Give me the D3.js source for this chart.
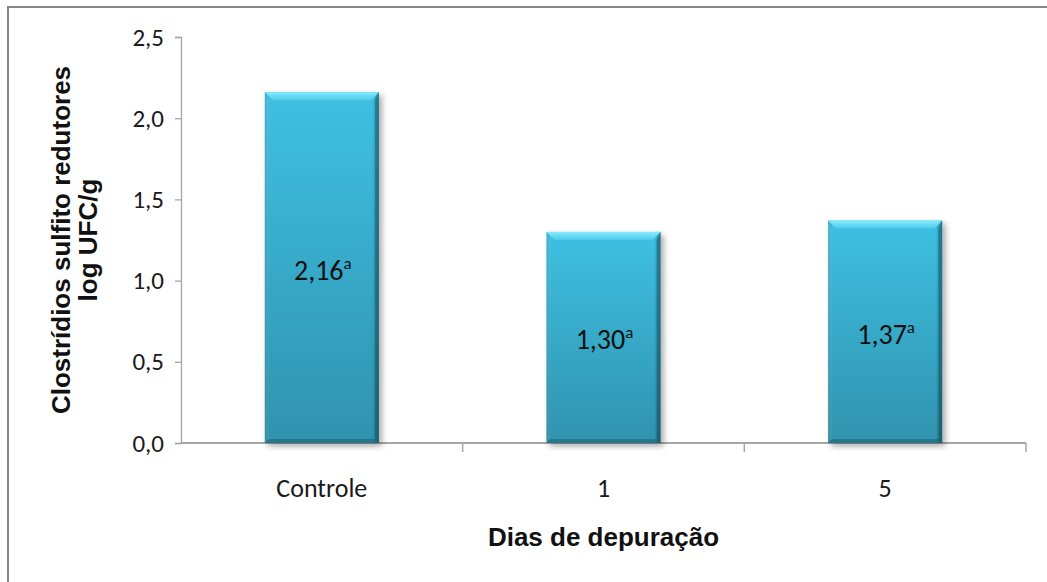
<!DOCTYPE html>
<html>
<head>
<meta charset="utf-8">
<script src="https://cdn.jsdelivr.net/npm/d3@7"></script>
<style>
  html, body { margin: 0; padding: 0; background: #fff; }
  svg { display: block; }
</style>
</head>
<body>
<svg id="chart" width="1047" height="582"></svg>
<script>
// Clostrídios sulfito redutores por dias de depuração
const categories = ["Controle", "1", "5"];
const values = [2.16, 1.30, 1.37];
const letters = ["a", "a", "a"];
const yTicks = [0, 0.5, 1.0, 1.5, 2.0, 2.5];

const svg = d3.select("#chart");
const W = 1047, H = 582;
const margin = { left: 181, right: 21, top: 37, bottom: 139 };
const bodyFont = "Carlito, Calibri, Lato, 'Liberation Sans', sans-serif";
const titleFont = "'Liberation Sans', Arial, sans-serif";

// outer frame
svg.append("rect")
  .attr("x", 8).attr("y", 7)
  .attr("width", W + 10).attr("height", H + 10)
  .attr("fill", "#fff").attr("stroke", "#868686").attr("stroke-width", 2);

const x = d3.scaleBand().domain(categories)
  .range([margin.left, W - margin.right]).padding(0);
const y = d3.scaleLinear().domain([0, 2.5])
  .range([H - margin.bottom, margin.top]);

const fmt = v => d3.format(".1f")(v).replace(".", ",");
const fmt2 = v => d3.format(".2f")(v).replace(".", ",");

const defs = svg.append("defs");
const gv = defs.append("linearGradient").attr("id", "barFill")
  .attr("x1", 0).attr("y1", 0).attr("x2", 0).attr("y2", 1);
gv.append("stop").attr("offset", "0%").attr("stop-color", "#3fc0e3");
gv.append("stop").attr("offset", "100%").attr("stop-color", "#2f93ae");

const gh = defs.append("linearGradient").attr("id", "barEdge")
  .attr("x1", 0).attr("y1", 0).attr("x2", 1).attr("y2", 0);
gh.append("stop").attr("offset", "0%").attr("stop-color", "#000").attr("stop-opacity", 0.12);
gh.append("stop").attr("offset", "4%").attr("stop-color", "#000").attr("stop-opacity", 0.0);
gh.append("stop").attr("offset", "94%").attr("stop-color", "#000").attr("stop-opacity", 0.0);
gh.append("stop").attr("offset", "100%").attr("stop-color", "#000").attr("stop-opacity", 0.25);

const gtop = defs.append("linearGradient").attr("id", "barTop")
  .attr("x1", 0).attr("y1", 0).attr("x2", 0).attr("y2", 1);
gtop.append("stop").attr("offset", "0%").attr("stop-color", "#86ecfd");
gtop.append("stop").attr("offset", "100%").attr("stop-color", "#4ccaec");

const shadow = defs.append("filter").attr("id", "shadow")
  .attr("x", "-20%").attr("y", "-10%").attr("width", "140%").attr("height", "130%");
shadow.append("feGaussianBlur").attr("in", "SourceAlpha").attr("stdDeviation", 3).attr("result", "b");
shadow.append("feOffset").attr("in", "b").attr("dx", 3).attr("dy", 3).attr("result", "o");
shadow.append("feComponentTransfer").attr("in", "o").attr("result", "s")
  .append("feFuncA").attr("type", "linear").attr("slope", 0.35);
const merge = shadow.append("feMerge");
merge.append("feMergeNode").attr("in", "s");
merge.append("feMergeNode").attr("in", "SourceGraphic");

// axes
const yAxis = svg.append("g")
  .attr("transform", `translate(${margin.left},0)`)
  .call(d3.axisLeft(y).tickValues(yTicks).tickFormat(fmt).tickSizeOuter(0).tickSize(6).tickPadding(11));
yAxis.select(".domain").attr("stroke", "#a6a6a6").attr("stroke-width", 1.3);
yAxis.selectAll(".tick line").attr("stroke", "#a6a6a6").attr("stroke-width", 1.3);
yAxis.selectAll(".tick text")
  .attr("font-family", bodyFont)
  .attr("font-size", 25).attr("fill", "#1a1a1a");

const xAxisG = svg.append("g").attr("transform", `translate(0,${y(0)})`);
xAxisG.append("line")
  .attr("x1", margin.left).attr("x2", W - margin.right)
  .attr("stroke", "#a6a6a6").attr("stroke-width", 2);
const boundaries = categories.map(c => x(c)).concat([x(categories[categories.length - 1]) + x.bandwidth()]);
xAxisG.selectAll("line.tk").data(boundaries.slice(1)).join("line")
  .attr("class", "tk")
  .attr("x1", d => d).attr("x2", d => d).attr("y1", 0).attr("y2", 9)
  .attr("stroke", "#a6a6a6").attr("stroke-width", 1.5);
xAxisG.selectAll("text").data(categories).join("text")
  .attr("x", d => x(d) + x.bandwidth() / 2).attr("y", 54)
  .attr("text-anchor", "middle")
  .attr("font-family", bodyFont)
  .attr("font-size", 26).attr("fill", "#1a1a1a")
  .text(d => d);

// bars
const bw = x.bandwidth() * 0.405;
const bars = svg.append("g").selectAll("g.bar")
  .data(categories.map((c, i) => ({ c, v: values[i], l: letters[i] })))
  .join("g").attr("class", "bar");

bars.each(function(d) {
  const g = d3.select(this);
  const bx = x(d.c) + (x.bandwidth() - bw) / 2;
  const by = y(d.v);
  const bh = y(0) - y(d.v);
  const bev = 8;
  g.append("rect").attr("x", bx).attr("y", by).attr("width", bw).attr("height", bh)
    .attr("fill", "url(#barFill)").attr("filter", "url(#shadow)");
  g.append("rect").attr("x", bx).attr("y", by).attr("width", bw).attr("height", bh)
    .attr("fill", "url(#barEdge)");
  // top bevel
  g.append("path")
    .attr("d", `M${bx},${by} L${bx + bw},${by} L${bx + bw - bev},${by + bev} L${bx + bev},${by + bev} Z`)
    .attr("fill", "url(#barTop)");
  // left bevel
  g.append("path")
    .attr("d", `M${bx},${by} L${bx + 4},${by + bev} L${bx + 4},${by + bh - 4} L${bx},${by + bh} Z`)
    .attr("fill", "#fff").attr("opacity", 0.08);
  // right bevel
  g.append("path")
    .attr("d", `M${bx + bw},${by} L${bx + bw - 4},${by + bev} L${bx + bw - 4},${by + bh - 4} L${bx + bw},${by + bh} Z`)
    .attr("fill", "#0b3a48").attr("opacity", 0.35);
  // bottom bevel
  g.append("path")
    .attr("d", `M${bx},${by + bh} L${bx + 4},${by + bh - 4} L${bx + bw - 4},${by + bh - 4} L${bx + bw},${by + bh} Z`)
    .attr("fill", "#0b3a48").attr("opacity", 0.3);

  const t = g.append("text")
    .attr("x", bx + bw / 2 + 1).attr("y", by + bh / 2 + 12)
    .attr("text-anchor", "middle")
    .attr("font-family", bodyFont)
    .attr("font-size", 28).attr("fill", "#111");
  t.append("tspan").text(fmt2(d.v));
  t.append("tspan").attr("dy", -11).attr("font-size", 17).text(d.l);
});

// axis titles
svg.append("text")
  .attr("transform", `translate(75,${(y(0) + y(2.5)) / 2}) rotate(-90)`)
  .attr("text-anchor", "middle")
  .attr("font-family", titleFont)
  .attr("font-weight", "bold").attr("font-size", 26).attr("fill", "#111")
  .call(t => {
    t.append("tspan").attr("x", 0).attr("dy", -5).text("Clostrídios sulfito redutores");
    t.append("tspan").attr("x", 0).attr("dy", 27).text("log UFC/g");
  });

svg.append("text")
  .attr("x", (margin.left + W - margin.right) / 2).attr("y", 546)
  .attr("text-anchor", "middle")
  .attr("font-family", titleFont)
  .attr("font-weight", "bold").attr("font-size", 26).attr("fill", "#111")
  .text("Dias de depuração");
</script>
</body>
</html>
